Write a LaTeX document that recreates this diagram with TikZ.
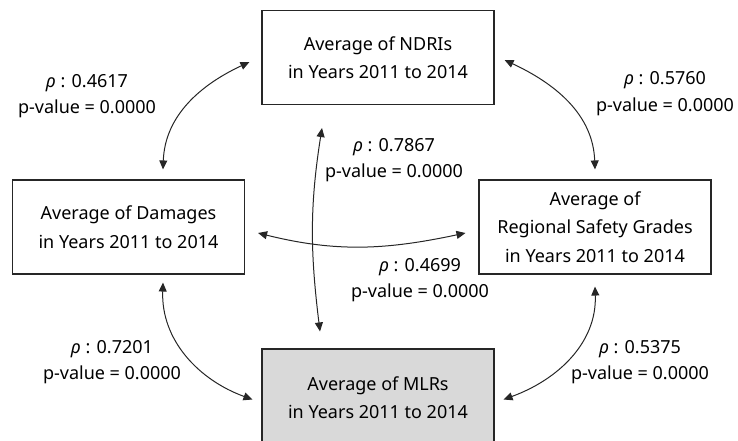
\documentclass[tikz,border=0pt]{standalone}
\usepackage{fontspec}
\setmainfont{Noto Sans}
\usetikzlibrary{arrows.meta}
\begin{document}
\begin{tikzpicture}[x=1pt,y=1pt,
  font=\fontsize{18}{28.5}\selectfont,
  box/.style={draw=black!85, line width=1.1pt, minimum width=232pt, minimum height=94pt, align=center, inner sep=0pt},
  lbl/.style={align=center, inner sep=0pt, font=\fontsize{18}{26.5}\selectfont},
  arr/.style={{Triangle[length=9pt,width=8pt]}-{Triangle[length=9pt,width=8pt]}, line width=1pt, black!85}]
\useasboundingbox (0,0) rectangle (738,440);
\node[box] (ndri) at (378,382.5) {Average of NDRIs\\in Years 2011 to 2014};
\node[box] (dam) at (128.5,213) {Average of Damages\\in Years 2011 to 2014};
\node[box] (saf) at (595,213) {Average of\\Regional Safety Grades\\in Years 2011 to 2014};
\node[box, fill=black!15, minimum height=97pt] (mlr) at (378,42.5) {Average of MLRs\\in Years 2011 to 2014};
% connectors
\draw[arr] ([xshift=34.5pt,yshift=10pt]dam.north) to[out=88,in=205] ([xshift=-12pt,yshift=-4.5pt]ndri.west);
\draw[arr] ([xshift=10pt,yshift=-2.5pt]ndri.east) to[out=-25,in=92] ([yshift=10pt]saf.north);
\draw[arr] ([xshift=34.5pt,yshift=-8pt]dam.south) to[out=-92,in=160] ([xshift=-9pt,yshift=-2pt]mlr.west);
\draw[arr] ([yshift=-12pt]saf.south) to[out=-88,in=20] ([xshift=9pt,yshift=-2pt]mlr.east);
\draw[arr] ([xshift=-56pt,yshift=-23pt]ndri.south) to[out=-99,in=97] ([xshift=-58pt,yshift=17pt]mlr.north);
\draw[arr] ([xshift=13pt,yshift=-6pt]dam.east) to[out=-14,in=192] ([xshift=-13pt,yshift=-6pt]saf.west);
% labels
\node[lbl] (l1) at (87,344) {\textit{ρ} : 0.4617\\p-value = 0.0000};
\node[lbl] (l2) at (665,346.5) {\textit{ρ} : 0.5760\\p-value = 0.0000};
\node[lbl] (l3) at (394,280) {\textit{ρ} : 0.7867\\p-value = 0.0000};
\node[lbl] (l4) at (420,160) {\textit{ρ} : 0.4699\\p-value = 0.0000};
\node[lbl] (l5) at (112,78) {\textit{ρ} : 0.7201\\p-value = 0.0000};
\node[lbl] (l6) at (640,78) {\textit{ρ} : 0.5375\\p-value = 0.0000};
\end{tikzpicture}
\end{document}
